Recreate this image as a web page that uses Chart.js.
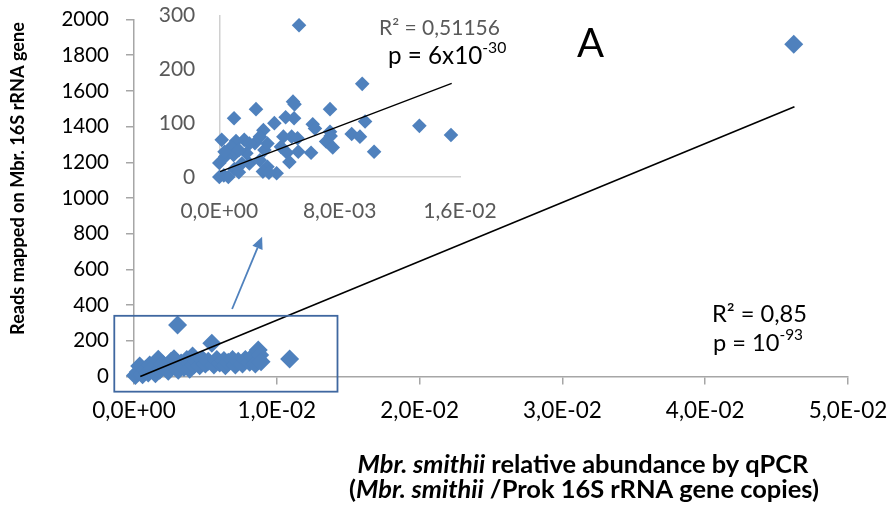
<!DOCTYPE html>
<html><head><meta charset="utf-8">
<script src="https://cdn.jsdelivr.net/npm/chart.js@4/dist/chart.umd.min.js"></script>
<style>
html,body{margin:0;padding:0;background:#fff;}
#wrap{position:relative;width:888px;height:509px;overflow:hidden;}
canvas{position:absolute;left:0;top:0;}
</style></head><body>
<div id="wrap"><canvas id="main" width="888" height="509"></canvas><canvas id="inset" width="888" height="509"></canvas></div>
<script>
// ---------- DATA ----------
const mainX = [0.0001,0.0003,0.0004,0.0006,0.0008,0.0010,0.0011,0.0013,0.0015,0.0017,0.0018,0.0020,0.0022,0.0024,0.0026,0.0028,0.0029,0.00305,0.0031,0.0033,0.0035,0.0037,0.0039,0.0041,0.0042,0.0044,0.0046,0.0048,0.0050,0.0052,0.00545,0.0056,0.0058,0.0060,0.0063,0.0064,0.0066,0.0069,0.0071,0.0073,0.0076,0.0078,0.0081,0.0083,0.0085,0.0087,0.0088,0.0089,0.0109,0.0462];
const mainY = [5,25,59,10,40,20,65,45,15,96,35,70,50,30,85,100,55,288,35,75,50,95,40,115,65,85,60,95,70,85,186,65,95,75,90,60,80,95,65,85,70,95,80,110,70,148,120,83,98,1861];
const mainTrendX = [0.00044, 0.04625];
const mainTrendY = [0, 1511];

const insetX = [0.0053,0.0095,0.0049,0.0050,0.00244,0.00098,0.00736,0.00441,0.00497,0.00366,0.00969,0.0133,0.0154,0.00621,0.00636,0.00736,0.0074,0.0088,0.00935,0.01029,0.0071,0.00754,0.0061,0.00525,0.00481,0.0052,0.00426,0.0041,0.0045,0.00466,0.00381,0.00293,0.0027,0.00237,0.00166,0.0020,0.00111,0.00016,0.0008,0.00095,0.0004,0.0,0.0015,0.0020,0.0027,0.0032,0.0029,0.0033,0.0,0.0003,0.0006,0.0010,0.0013,0.0018,0.00035,0.0013,0.0030,0.0032];
const insetY = [282,173,140,135,126,109,126,111,109,100,103,95,78,98,90,84,76,80,75,47,66,55,45,47,75,72,75,56,45,28,7,87,75,63,69,62,67,69,56,41,38,26,25,25,31,19,10,8,0,3,0,15,9,44,47,50,50,62];
const insetTrendX = [0.00005, 0.01545];
const insetTrendY = [10, 174];

const mainXTicks = [0, 0.01, 0.02, 0.03, 0.04, 0.05];
const mainYTicks = [0, 200, 400, 600, 800, 1000, 1200, 1400, 1600, 1800, 2000];
const insetXTicks = [0, 0.008, 0.016];
const insetYTicks = [0, 100, 200, 300];

// ---------- HELPERS ----------
const FONT = 'Lato, "Liberation Sans", sans-serif';
const BLUE = '#4F81BD';
function sci(v){
  const s = Number(v).toExponential(1);
  const [m, e] = s.split('e');
  const sign = e[0] === '-' ? '-' : '+';
  const d = e.replace(/[+-]/, '').padStart(2, '0');
  return m.replace('.', ',') + 'E' + sign + d;
}
function pts(xs, ys){ return xs.map((x, i) => ({x, y: ys[i]})); }
function fixTicks(list){ return function(scale){ scale.ticks = list.map(v => ({value: v})); }; }
// segs: {t, style, size, dy, color}; size is relative scale factor to base size k
function fontOf(s, k){ return (s.style ? s.style + ' ' : '') + (s.size * k) + 'px ' + FONT; }
function richWidth(ctx, segs, k){
  let w = 0;
  segs.forEach(s => { ctx.font = fontOf(s, k); w += ctx.measureText(s.t).width; });
  return w;
}
function fitK(ctx, segs, target){ return target / richWidth(ctx, segs, 1); }
function drawRich(ctx, segs, x, y, align, k){
  k = k || 1;
  const w = richWidth(ctx, segs, k);
  let cx = align === 'center' ? x - w / 2 : x;
  ctx.textAlign = 'left';
  ctx.textBaseline = 'alphabetic';
  segs.forEach(s => {
    ctx.font = fontOf(s, k); ctx.fillStyle = s.color || '#000';
    ctx.fillText(s.t, cx, y + (s.dy || 0) * k);
    cx += ctx.measureText(s.t).width;
  });
}

// ---------- MAIN CHART ----------
const xTitle1 = [{t: 'Mbr. smithii', style: 'italic bold', size: 1}, {t: ' relative abundance by qPCR', style: 'bold', size: 1}];
const xTitle2 = [{t: '(', style: 'bold', size: 1}, {t: 'Mbr. smithii', style: 'italic bold', size: 1}, {t: ' /Prok 16S rRNA gene copies)', style: 'bold', size: 1}];
const yTitle = [{t: 'Reads mapped on Mbr. 16S rRNA gene', style: 'bold', size: 1}];
const r2Main = [{t: 'R² = 0,85', style: '', size: 1}];
const pMain = [{t: 'p = 10', style: '', size: 1}, {t: '-93', style: '', size: 0.65, dy: -0.48}];

const mainAnno = {
  id: 'mainAnno',
  afterDatasetsDraw(chart){
    const ctx = chart.ctx, xs = chart.scales.x, ys = chart.scales.y;
    ctx.save();
    const bx1 = xs.getPixelForValue(-0.00138), bx2 = xs.getPixelForValue(0.01425);
    const by1 = ys.getPixelForValue(340), by2 = ys.getPixelForValue(-85);
    ctx.strokeStyle = '#3F67A0'; ctx.lineWidth = 1.8;
    ctx.strokeRect(bx1, by1, bx2 - bx1, by2 - by1);
    const ax1 = xs.getPixelForValue(0.00687), ay1 = ys.getPixelForValue(378);
    const ax2 = xs.getPixelForValue(0.00897), ay2 = ys.getPixelForValue(783);
    const ang = Math.atan2(ay2 - ay1, ax2 - ax1), hl = 12, hw = 5.5;
    const bx = ax2 - hl * Math.cos(ang), byy = ay2 - hl * Math.sin(ang);
    ctx.strokeStyle = BLUE; ctx.fillStyle = BLUE; ctx.lineWidth = 1.8;
    ctx.beginPath(); ctx.moveTo(ax1, ay1); ctx.lineTo(bx, byy); ctx.stroke();
    ctx.beginPath();
    ctx.moveTo(ax2, ay2);
    ctx.lineTo(bx + hw * Math.sin(ang), byy - hw * Math.cos(ang));
    ctx.lineTo(bx - hw * Math.sin(ang), byy + hw * Math.cos(ang));
    ctx.closePath(); ctx.fill();
    drawRich(ctx, [{t: 'A', style: '', size: 40}], 577, 57, 'left');
    const kr = fitK(ctx, r2Main, 95);
    drawRich(ctx, r2Main, 712, 322, 'left', kr);
    drawRich(ctx, pMain, 713, 351, 'left', kr);
    const kt = fitK(ctx, xTitle2, 470);
    drawRich(ctx, xTitle1, 583, 473, 'center', kt);
    drawRich(ctx, xTitle2, 584, 498, 'center', kt);
    ctx.save();
    const ky = fitK(ctx, yTitle, 313);
    ctx.translate(24, 178.5); ctx.rotate(-Math.PI / 2);
    drawRich(ctx, yTitle, 0, 0, 'center', ky);
    ctx.restore();
    ctx.restore();
  }
};

new Chart(document.getElementById('main'), {
  type: 'scatter',
  data: {
    datasets: [
      { data: pts(mainX, mainY), pointStyle: 'rectRot', pointRadius: 9.5, pointHoverRadius: 9.5,
        backgroundColor: BLUE, borderWidth: 0, clip: false, order: 2 },
      { type: 'line', data: pts(mainTrendX, mainTrendY), borderColor: '#000', borderWidth: 1.6,
        pointRadius: 0, fill: false, clip: false, order: 1 }
    ]
  },
  options: {
    responsive: false, animation: false, events: [],
    layout: { padding: { left: 0, top: 19.5, right: 40, bottom: 0 } },
    plugins: { legend: { display: false }, tooltip: { enabled: false } },
    scales: {
      x: {
        type: 'linear', min: 0, max: 0.05,
        afterBuildTicks: fixTicks(mainXTicks),
        afterFit(s){ s.height = 509 - 376.5; s.paddingLeft = 0; s.paddingRight = 0; },
        grid: { drawOnChartArea: false, drawTicks: true, tickLength: 8, color: '#a6a6a6', lineWidth: 1.5 },
        border: { display: true, color: '#a6a6a6', width: 1.5 },
        ticks: { autoSkip: false, maxRotation: 0, padding: 13, color: '#000', font: { family: FONT, size: 22.5 }, callback: v => sci(v) }
      },
      y: {
        type: 'linear', min: 0, max: 2000,
        afterBuildTicks: fixTicks(mainYTicks),
        afterFit(s){ s.width = 134; s.paddingTop = 0; s.paddingBottom = 0; },
        grid: { drawOnChartArea: false, drawTicks: true, tickLength: 8, color: '#a6a6a6', lineWidth: 1.5 },
        border: { display: true, color: '#a6a6a6', width: 1.5 },
        ticks: { autoSkip: false, padding: 17, color: '#000', font: { family: FONT, size: 20.5 }, callback: v => String(v) }
      }
    }
  },
  plugins: [mainAnno]
});

// ---------- INSET CHART ----------
const r2Inset = [{t: 'R² = 0,51156', style: '', size: 1, color: '#595959'}];
const pInset = [{t: 'p = 6x10', style: '', size: 1}, {t: '-30', style: '', size: 0.65, dy: -0.45}];
const insetAnno = {
  id: 'insetAnno',
  afterDatasetsDraw(chart){
    const ctx = chart.ctx;
    ctx.save();
    drawRich(ctx, r2Inset, 379, 35, 'left', fitK(ctx, r2Inset, 121));
    drawRich(ctx, pInset, 388, 64, 'left', fitK(ctx, pInset, 118));
    ctx.restore();
  }
};

new Chart(document.getElementById('inset'), {
  type: 'scatter',
  data: {
    datasets: [
      { data: pts(insetX, insetY), pointStyle: 'rectRot', pointRadius: 7.3, pointHoverRadius: 7.3,
        backgroundColor: BLUE, borderWidth: 0, clip: false, order: 2 },
      { type: 'line', data: pts(insetTrendX, insetTrendY), borderColor: '#000', borderWidth: 1.3,
        pointRadius: 0, fill: false, clip: false, order: 1 }
    ]
  },
  options: {
    responsive: false, animation: false, events: [],
    layout: { padding: { left: 0, top: 15.5, right: 888 - 460, bottom: 0 } },
    plugins: { legend: { display: false }, tooltip: { enabled: false } },
    scales: {
      x: {
        type: 'linear', min: 0, max: 0.016,
        afterBuildTicks: fixTicks(insetXTicks),
        afterFit(s){ s.height = 509 - 177; s.paddingLeft = 0; s.paddingRight = 0; },
        grid: { drawOnChartArea: false, drawTicks: false },
        border: { display: true, color: '#d0d0d0', width: 1.5 },
        ticks: { autoSkip: false, maxRotation: 0, padding: 22, color: '#595959', font: { family: FONT, size: 21 }, callback: v => sci(v) }
      },
      y: {
        type: 'linear', min: 0, max: 300,
        afterBuildTicks: fixTicks(insetYTicks),
        afterFit(s){ s.width = 219.3; s.paddingTop = 0; s.paddingBottom = 0; },
        grid: { drawOnChartArea: false, drawTicks: false },
        border: { display: true, color: '#d0d0d0', width: 1.5 },
        ticks: { autoSkip: false, padding: 24, color: '#595959', font: { family: FONT, size: 21 }, callback: v => String(v) }
      }
    }
  },
  plugins: [insetAnno]
});
</script>
</body></html>
